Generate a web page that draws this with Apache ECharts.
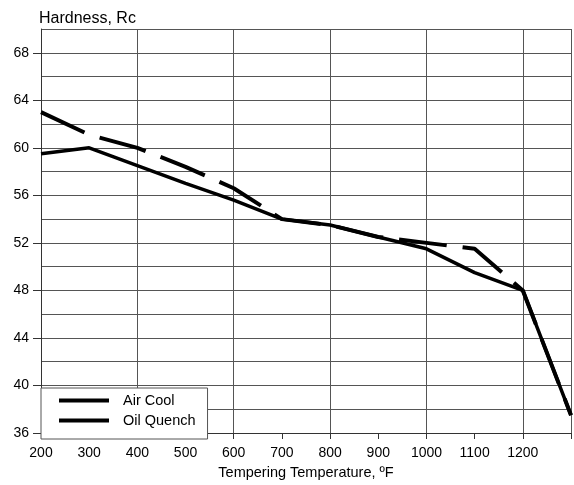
<!DOCTYPE html>
<html>
<head>
<meta charset="utf-8">
<script src="https://cdn.jsdelivr.net/npm/echarts@6/dist/echarts.min.js"></script>
<style>
  html, body { margin: 0; padding: 0; background: #fff; }
  #chart { width: 574px; height: 485px; }
</style>
</head>
<body>
<div id="chart"></div>
<script>
// tempering temperature, °F
var temps = [200, 300, 400, 500, 600, 700, 800, 900, 1000, 1100, 1200, 1300];
// hardness, Rc
var airCool = [59.5, 60, 58.5, 57, 55.6, 54, 53.5, 52.5, 51.5, 49.5, 48, 37.5];
var oilQuench = [63, 61.1, 60, 58.4, 56.6, 54, 53.5, 52.5, 52, 51.5, 48, 37.5];
var yLabels = [36, 40, 44, 48, 52, 56, 60, 64, 68];

var font = 'Liberation Sans, Arial, sans-serif';

function pairs(ys) {
    return temps.map(function (t, i) { return [t, ys[i]]; });
}

var chart = echarts.init(document.getElementById('chart'));

var option = {
    animation: false,
    textStyle: { fontFamily: font, color: '#000' },
    title: {
        text: 'Hardness, Rc',
        left: 34,
        top: 6,
        textStyle: { fontFamily: font, fontSize: 16, fontWeight: 'normal', color: '#000' }
    },
    grid: { left: 41, right: 1, top: 29, bottom: 49 },
    xAxis: [
        {
            type: 'value', min: 200, max: 1300, interval: 100,
            name: 'Tempering Temperature, \u00baF',
            nameLocation: 'middle', nameGap: 32,
            nameTextStyle: { fontFamily: font, fontSize: 14.5, color: '#000' },
            axisLine: { show: true, lineStyle: { color: '#333', width: 1 } },
            axisTick: { show: true, length: 6, lineStyle: { color: '#333' } },
            axisLabel: {
                fontFamily: font, fontSize: 14, color: '#000', margin: 13,
                formatter: function (v) { return v === 1300 ? '' : String(v); }
            },
            splitLine: { show: false }
        },
        {
            type: 'value', min: 200, max: 1300, interval: 200,
            position: 'bottom',
            axisLine: { show: false },
            axisTick: { show: false },
            axisLabel: { show: false },
            splitLine: { show: true, lineStyle: { color: '#555', width: 1 } }
        }
    ],
    yAxis: [
        {
            type: 'value', min: 36, max: 70, interval: 2,
            axisLine: { show: true, lineStyle: { color: '#333', width: 1 } },
            axisTick: { show: false },
            axisLabel: { show: false },
            splitLine: { show: true, lineStyle: { color: '#555', width: 1 } }
        },
        {
            type: 'value', min: 36, max: 70, interval: 2,
            position: 'left',
            axisLine: { show: false },
            axisTick: { show: true, length: 8, customValues: yLabels, lineStyle: { color: '#333' } },
            axisLabel: {
                fontFamily: font, fontSize: 14, color: '#000', margin: 12,
                customValues: yLabels
            },
            splitLine: { show: false }
        }
    ],
    legend: {
        orient: 'vertical',
        left: 41,
        top: 388,
        padding: [5, 12, 11, 16],
        itemWidth: 50,
        itemHeight: 14,
        itemGap: 5,
        backgroundColor: '#fff',
        borderColor: '#555',
        borderWidth: 1,
        borderRadius: 0,
        // hide the symbol drawn in the middle of the line icon
        itemStyle: { opacity: 0, color: 'rgba(0,0,0,0)', borderWidth: 0 },
        lineStyle: { type: 'solid', width: 4, color: '#000', opacity: 1 },
        textStyle: { fontFamily: font, fontSize: 14.5, color: '#000', padding: [0, 0, 0, 9] },
        data: ['Air Cool', 'Oil Quench'],
        z: 10
    },
    series: [
        {
            name: 'Air Cool',
            type: 'line',
            data: pairs(airCool),
            symbol: 'none',
            color: '#000',
            lineStyle: { color: '#000', width: 3.5, cap: 'butt' },
            z: 3
        },
        {
            name: 'Oil Quench',
            type: 'line',
            data: pairs(oilQuench),
            symbol: 'none',
            color: '#000',
            lineStyle: { color: '#000', width: 4, type: [48, 16], cap: 'butt' },
            z: 3
        }
    ]
};

chart.setOption(option);
</script>
</body>
</html>
